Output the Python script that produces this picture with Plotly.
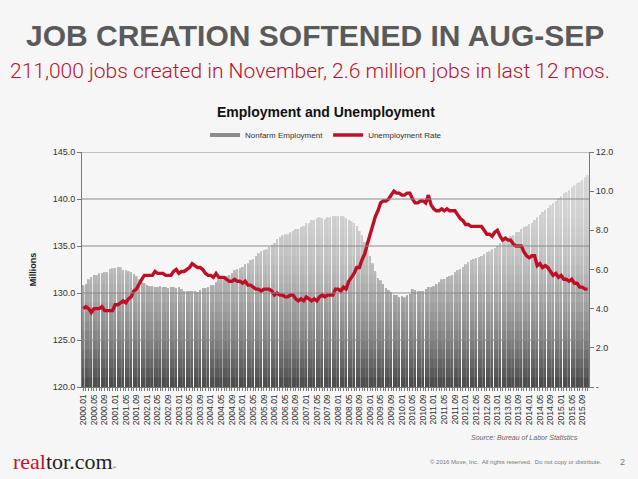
import numpy as np
import plotly.graph_objects as go

# monthly data, 2000.01 - 2015.11
years = list(range(2000, 2016))
months = [f"{y}.{m:02d}" for y in years for m in range(1, 13)][:191]

# Nonfarm employment, millions
nonfarm = [
    130.8, 130.9, 131.4, 131.7, 131.9, 131.9, 132.1, 132.1, 132.2, 132.2, 132.5, 132.6,
    132.6, 132.7, 132.7, 132.4, 132.4, 132.3, 132.2, 132.0, 131.8, 131.4, 131.1, 131.0,
    130.8, 130.7, 130.7, 130.6, 130.6, 130.7, 130.6, 130.6, 130.5, 130.6, 130.6, 130.5,
    130.6, 130.4, 130.2, 130.2, 130.2, 130.2, 130.2, 130.1, 130.3, 130.5, 130.5, 130.6,
    130.8, 130.8, 131.1, 131.4, 131.7, 131.8, 131.8, 131.9, 132.1, 132.4, 132.5, 132.6,
    132.7, 133.0, 133.1, 133.5, 133.6, 133.9, 134.2, 134.4, 134.5, 134.6, 134.9, 135.1,
    135.3, 135.7, 135.9, 136.1, 136.2, 136.2, 136.4, 136.6, 136.8, 136.8, 137.0, 137.1,
    137.4, 137.4, 137.7, 137.7, 137.9, 138.0, 137.9, 137.8, 138.0, 138.0, 138.2, 138.2,
    138.2, 138.2, 138.1, 137.9, 137.7, 137.6, 137.4, 137.1, 136.6, 136.1, 135.4, 134.7,
    133.9, 133.1, 132.3, 131.6, 131.3, 130.9, 130.5, 130.3, 130.1, 129.8, 129.8, 129.5,
    129.6, 129.5, 129.7, 129.9, 130.4, 130.3, 130.2, 130.2, 130.2, 130.4, 130.6, 130.6,
    130.7, 130.9, 131.1, 131.4, 131.5, 131.7, 131.8, 131.9, 132.2, 132.4, 132.5, 132.7,
    133.0, 133.3, 133.5, 133.6, 133.7, 133.8, 133.9, 134.1, 134.3, 134.4, 134.6, 134.8,
    135.0, 135.3, 135.4, 135.6, 135.8, 136.0, 136.1, 136.4, 136.5, 136.8, 137.0, 137.1,
    137.3, 137.4, 137.7, 138.0, 138.3, 138.6, 138.8, 139.0, 139.3, 139.5, 139.8, 140.1,
    140.3, 140.6, 140.7, 140.9, 141.2, 141.4, 141.7, 141.8, 142.0, 142.3, 142.5,
]

# Unemployment rate, percent
unemp = [
    4.0, 4.1, 4.0, 3.8, 4.0, 4.0, 4.0, 4.1, 3.9, 3.9, 3.9, 3.9,
    4.2, 4.2, 4.3, 4.4, 4.3, 4.5, 4.6, 4.9, 5.0, 5.3, 5.5, 5.7,
    5.7, 5.7, 5.7, 5.9, 5.8, 5.8, 5.8, 5.7, 5.7, 5.7, 5.9, 6.0,
    5.8, 5.9, 5.9, 6.0, 6.1, 6.3, 6.2, 6.1, 6.1, 6.0, 5.8, 5.7,
    5.7, 5.6, 5.8, 5.6, 5.6, 5.6, 5.5, 5.4, 5.4, 5.5, 5.4, 5.4,
    5.3, 5.4, 5.2, 5.2, 5.1, 5.0, 5.0, 4.9, 5.0, 5.0, 5.0, 4.9,
    4.7, 4.8, 4.7, 4.7, 4.6, 4.6, 4.7, 4.7, 4.5, 4.4, 4.5, 4.4,
    4.6, 4.5, 4.4, 4.5, 4.4, 4.6, 4.7, 4.6, 4.7, 4.7, 4.7, 5.0,
    5.0, 4.9, 5.1, 5.0, 5.4, 5.6, 5.8, 6.1, 6.1, 6.5, 6.8, 7.3,
    7.8, 8.3, 8.7, 9.0, 9.4, 9.5, 9.5, 9.6, 9.8, 10.0, 9.9, 9.9,
    9.8, 9.8, 9.9, 9.9, 9.6, 9.4, 9.4, 9.5, 9.5, 9.4, 9.8, 9.3,
    9.1, 9.0, 9.0, 9.1, 9.0, 9.1, 9.0, 9.0, 9.0, 8.8, 8.6, 8.5,
    8.3, 8.3, 8.2, 8.2, 8.2, 8.2, 8.2, 8.0, 7.8, 7.8, 7.7, 7.9,
    8.0, 7.7, 7.5, 7.6, 7.5, 7.5, 7.3, 7.2, 7.2, 7.2, 6.9, 6.7,
    6.6, 6.7, 6.7, 6.2, 6.3, 6.1, 6.2, 6.1, 5.9, 5.7, 5.8, 5.6,
    5.7, 5.5, 5.5, 5.4, 5.5, 5.3, 5.3, 5.1, 5.1, 5.0, 5.0,
]

left_ticks = [120, 125, 130, 135, 140, 145]
right_ticks = [0, 2, 4, 6, 8, 10, 12]
right_labels = ["-", "2.0", "4.0", "6.0", "8.0", "10.0", "12.0"]
x_labels = [m if i % 4 == 0 else "" for i, m in enumerate(months)]

W, H = 638, 479
L, R, T, B = 82, 589, 152, 387


def px(x):
    return (x - L) / (R - L)


def py(y):
    return (B - y) / (B - T)


fig = go.Figure()

# bars drawn in bands to fake the dark-bottom / light-top gradient
emp = np.array(nonfarm)
for lv in range(145, 120, -1):
    t = (145 - lv) / 25
    g = int(216 - 150 * t ** 2.2)
    fig.add_trace(go.Bar(
        x=months, y=np.minimum(emp, lv),
        marker=dict(color=f"rgb({g},{g},{g})", line_width=0),
        showlegend=False, hoverinfo="skip",
    ))

# legend entries
fig.add_trace(go.Scatter(x=[None], y=[None], mode="lines", name="Nonfarm Employment",
                         line=dict(color="#8c8c8c", width=4)))
fig.add_trace(go.Scatter(x=months, y=unemp, mode="lines", name="Unemployment Rate",
                         yaxis="y2", line=dict(color="#bf0f27", width=3.4)))

# gridlines sit on top of the bars in the original
for v in left_ticks[1:]:
    fig.add_shape(type="line", xref="paper", x0=0, x1=1, yref="y", y0=v, y1=v,
                  line=dict(color="#8a8a8a", width=1), layer="above")

fig.update_layout(
    width=W, height=H,
    margin=dict(l=L, r=W - R, t=T, b=H - B, autoexpand=False),
    paper_bgcolor="#f6f6f6",
    plot_bgcolor="rgba(0,0,0,0)",
    barmode="overlay",
    bargap=0.45,
    font=dict(family="Liberation Sans, Arial, sans-serif", color="#333333", size=9),
    showlegend=True,
    legend=dict(orientation="h", x=px(326), xanchor="center", y=py(135), yanchor="middle",
                font=dict(size=8, color="#333333"), bgcolor="rgba(0,0,0,0)",
                itemwidth=30, tracegroupgap=0),
    xaxis=dict(
        type="category", tickmode="array", tickvals=months, ticktext=x_labels,
        tickangle=-90, ticks="outside", ticklen=3, tickcolor="#777777",
        showline=True, linecolor="#777777", showgrid=False,
        tickfont=dict(size=8.5, color="#333333"),
    ),
    yaxis=dict(
        range=[120, 145], tickvals=left_ticks, tickformat=".1f",
        showgrid=False,
        showline=True, linecolor="#777777", ticks="outside", ticklen=4, tickcolor="#777777",
        title=dict(text="<b>Millions</b>", font=dict(size=9, color="#222222"), standoff=14),
        tickfont=dict(size=9), zeroline=False,
    ),
    yaxis2=dict(
        range=[0, 12], overlaying="y", side="right", tickvals=right_ticks, ticktext=right_labels,
        showgrid=False, showline=True, linecolor="#777777", ticks="outside", ticklen=4,
        tickcolor="#777777", tickfont=dict(size=9), zeroline=False,
    ),
)

ann = [
    dict(text="<b>JOB CREATION SOFTENED IN AUG-SEP</b>", x=px(315), y=py(35),
         font=dict(size=30, color="#5a5a5a", family="Liberation Sans, Arial")),
    dict(text="211,000 jobs created in November, 2.6 million jobs in last 12 mos.", x=px(310), y=py(71),
         font=dict(size=21, color="#b5142c", family="Roboto, Noto Sans", weight=300)),
    dict(text="<b>Employment and Unemployment</b>", x=px(326), y=py(112),
         font=dict(size=14, color="#111111")),
    dict(text="<i>Source: Bureau of Labor Statistics</i>", x=px(580), y=py(437), xanchor="right",
         font=dict(size=7, color="#666666")),
    dict(text="<span style='color:#c4122f'>real</span>tor.com<span style='font-size:5px'>®</span>",
         x=px(11), y=py(461), xanchor="left",
         font=dict(size=22, color="#222222", family="Liberation Serif, DejaVu Serif")),
    dict(text="© 2016 Move, Inc.  All rights reserved.  Do not copy or distribute.", x=px(604), y=py(462),
         xanchor="right", font=dict(size=6, color="#777777")),
    dict(text="2", x=px(622), y=py(462), font=dict(size=9, color="#777777")),
]
for a in ann:
    a.setdefault("xanchor", "center")
    fig.add_annotation(xref="paper", yref="paper", showarrow=False, yanchor="middle", **a)

fig.write_html("out.html", config={"displayModeBar": False},
               post_script="document.body.style.margin='0';")
